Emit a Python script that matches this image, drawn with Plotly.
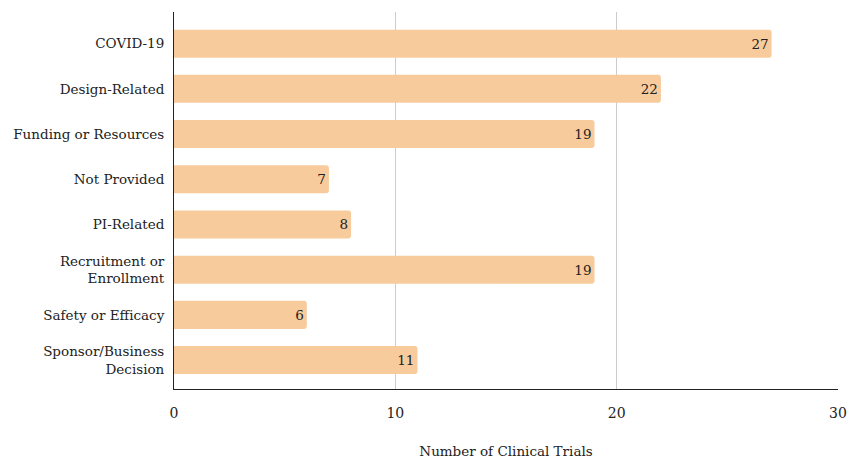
import plotly.graph_objects as go

categories = ["COVID-19", "Design-Related", "Funding or Resources", "Not Provided",
              "PI-Related", "Recruitment or<br>Enrollment", "Safety or Efficacy",
              "Sponsor/Business<br>Decision"]
values = [27, 22, 19, 7, 8, 19, 6, 11]
x_ticks = [0, 10, 20, 30]

FONT = "DejaVu Serif"

fig = go.Figure(go.Bar(
    x=values, y=categories, orientation="h",
    marker=dict(color="#F8CB9C", cornerradius=3, line=dict(width=0)),
    text=[str(v) for v in values], textposition="inside", insidetextanchor="end",
    textfont=dict(family=FONT, size=13.5, color="#222222"),
    cliponaxis=False,
))

fig.update_layout(
    width=848, height=459,
    margin=dict(l=174, r=10, t=12, b=70),
    plot_bgcolor="white", paper_bgcolor="white",
    bargap=0.38,
    showlegend=False,
    font=dict(family=FONT, size=13, color="#222222"),
    xaxis=dict(
        range=[0, 30], tickvals=x_ticks, ticktext=[str(t) for t in x_ticks],
        showgrid=True, gridcolor="#cccccc", gridwidth=1,
        showline=True, linecolor="#222222", linewidth=1,
        zeroline=False, ticks="", ticklabelstandoff=11,
        automargin=False,
        tickfont=dict(family=FONT, size=14, color="#222222"),
        title=dict(text="Number of Clinical Trials", standoff=26,
                   font=dict(family=FONT, size=13.5, color="#222222")),
    ),
    yaxis=dict(
        type="category", categoryorder="array", categoryarray=categories,
        range=[7.64, -0.70], automargin=False,
        showgrid=False, showline=True, linecolor="#222222", linewidth=1,
        ticks="", ticklabelstandoff=6,
        tickfont=dict(family=FONT, size=13.5, color="#222222"),
    ),
)

fig.write_html("out.html")
